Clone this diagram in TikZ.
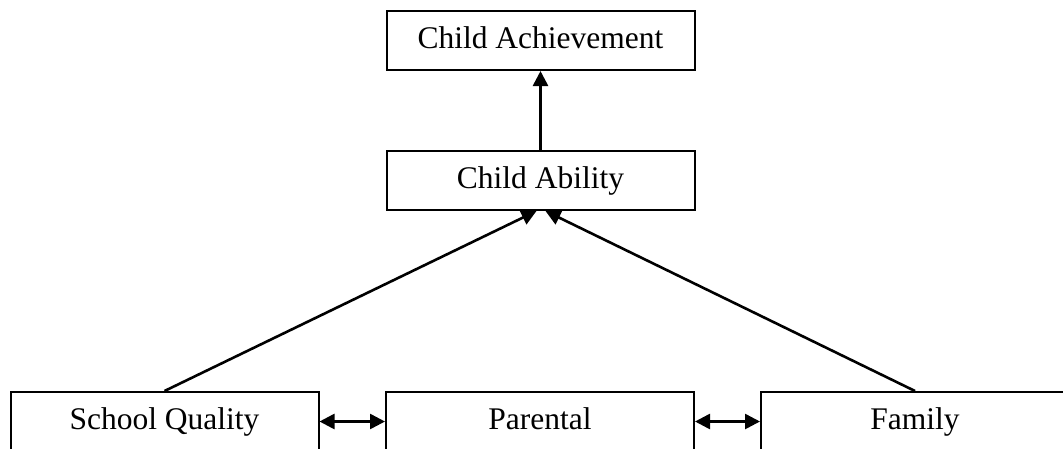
\documentclass[tikz,border=0pt]{standalone}
\usepackage{fontspec}
\setmainfont{Liberation Serif}
\usetikzlibrary{arrows.meta}
\begin{document}
\begin{tikzpicture}[x=1pt,y=-1pt,
  box/.style={draw, line width=2pt, minimum width=308pt, minimum height=59pt,
    inner sep=0pt, text height=22pt, text depth=7pt,
    font=\fontsize{31.5}{36}\selectfont},
  link/.style={line width=2.6pt, -{Triangle[length=15pt,width=15pt]}},
  both/.style={line width=2.6pt, {Triangle[length=15pt,width=15pt]}-{Triangle[length=15pt,width=15pt]}}]
  \useasboundingbox (0,0) rectangle (1063,448);
  \clip (0,0) rectangle (1063,448);
  % upper chain
  \node[box] (achieve) at (540.5,40.5) {Child Achievement};
  \node[box] (ability) at (540.5,180.5) {Child Ability};
  % bottom row
  \node[box] (school) at (164.5,421.5) {School Quality};
  \node[box] (parent) at (540,421.5) {Parental};
  \node[box] (family) at (915,421.5) {Family};
  % connectors
  \draw[link] (ability.north) -- (achieve.south);
  \draw[link] (school.north) -- ([xshift=-4pt]ability.south);
  \draw[link] (family.north) -- ([xshift=5pt]ability.south);
  \draw[both] (school.east) -- (parent.west);
  \draw[both] (parent.east) -- (family.west);
\end{tikzpicture}
\end{document}
